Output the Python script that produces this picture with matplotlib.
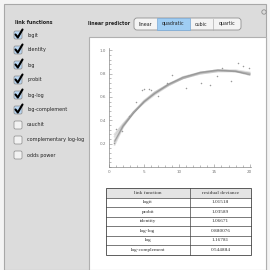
import matplotlib
matplotlib.use('Agg')
import matplotlib.pyplot as plt
from matplotlib.patches import Rectangle, FancyBboxPatch
import numpy as np

# --- data ---
LINK_FUNCTIONS = ['logit', 'identity', 'log', 'probit', 'log-log', 'log-complement',
                  'cauchit', 'complementary log-log', 'odds power']
LINK_CHECKED = [True, True, True, True, True, True, False, False, False]
PREDICTORS = ['linear', 'quadratic', 'cubic', 'quartic']
SELECTED = 'quadratic'

obs_x = [0.7, 1.0, 1.9, 2.9, 3.9, 4.7, 5.0, 5.7, 6.0, 6.9, 8.3, 8.9,
         11.0, 13.1, 14.3, 15.3, 16.1, 17.4, 18.3, 19.0, 19.9]
obs_y = [0.21, 0.33, 0.31, 0.44, 0.56, 0.66, 0.67, 0.67, 0.66, 0.61, 0.72, 0.79,
         0.68, 0.72, 0.70, 0.78, 0.85, 0.74, 0.89, 0.87, 0.85]

fit_x = [0.8, 2.0, 3.5, 5.0, 6.5, 8.5, 10.5, 13.0, 15.5, 18.0, 20.0]
fit_curves = {
    'logit':          [0.22, 0.35, 0.46, 0.56, 0.63, 0.71, 0.77, 0.81, 0.83, 0.82, 0.79],
    'probit':         [0.23, 0.35, 0.47, 0.56, 0.63, 0.71, 0.76, 0.81, 0.83, 0.82, 0.80],
    'identity':       [0.26, 0.36, 0.47, 0.56, 0.63, 0.70, 0.76, 0.80, 0.82, 0.82, 0.80],
    'log-log':        [0.19, 0.34, 0.47, 0.57, 0.64, 0.71, 0.76, 0.80, 0.82, 0.82, 0.80],
    'log':            [0.28, 0.37, 0.47, 0.55, 0.62, 0.70, 0.76, 0.81, 0.83, 0.83, 0.81],
    'log-complement': [0.21, 0.35, 0.47, 0.56, 0.64, 0.71, 0.77, 0.81, 0.83, 0.82, 0.79],
}

table_links = ['logit', 'probit', 'identity', 'log-log', 'log', 'log-complement']
table_dev = ['1.01518', '1.03589', '1.06671', '0.880076', '1.16781', '0.544884']

W = H = 270
fig = plt.figure(figsize=(2.7, 2.7), dpi=100)
fig.patch.set_facecolor('#f4f4f4')

ui = fig.add_axes([0, 0, 1, 1])
ui.set_xlim(0, W)
ui.set_ylim(H, 0)
ui.axis('off')

# outer gray panel
ui.add_patch(Rectangle((4, 4), 262, 266, facecolor='#dcdcdc', edgecolor='#a8a8a8', lw=0.8))
# white output pane
ui.add_patch(Rectangle((89, 37), 177, 233, facecolor='white', edgecolor='#b0b0b0', lw=0.8))

# left controls
ui.text(15, 23, 'link functions', fontsize=3.5, fontweight='bold', va='center', color='#222')
for i, (name, on) in enumerate(zip(LINK_FUNCTIONS, LINK_CHECKED)):
    yc = 35 + i * 15
    fc = '#b9d6f2' if on else '#f2f2f2'
    ui.add_patch(FancyBboxPatch((14, yc - 4), 8, 8, boxstyle='round,pad=0,rounding_size=1.5',
                                facecolor=fc, edgecolor='#8a8a8a', lw=0.5))
    if on:
        ui.plot([15.5, 17.8, 22.5], [yc - 0.5, yc + 2.5, yc - 5.5], color='black', lw=1.5,
                solid_capstyle='round')
    ui.text(27, yc, name, fontsize=3.5, va='center', color='#222')

# linear predictor selector
ui.text(88, 24, 'linear predictor', fontsize=3.4, fontweight='bold', va='center', color='#222')
seg_edges = [134, 157, 190, 213, 241]
ui.add_patch(FancyBboxPatch((134, 18), 107, 12, boxstyle='round,pad=0,rounding_size=3',
                            facecolor='#f4f4f4', edgecolor='#909090', lw=0.6))
for k, lab in enumerate(PREDICTORS):
    x0, x1 = seg_edges[k], seg_edges[k + 1]
    if lab == SELECTED:
        ui.add_patch(Rectangle((x0, 18.4), x1 - x0, 11.2, facecolor='#9fcdf3',
                               edgecolor='#7aa9d6', lw=0.5))
    elif k > 0 and PREDICTORS[k - 1] != SELECTED:
        ui.plot([x0, x0], [18.5, 29.5], color='#b0b0b0', lw=0.5)
    ui.text((x0 + x1) / 2, 24, lab, fontsize=3.4, ha='center', va='center', color='#222')

# gear-ish icon
ui.add_patch(plt.Circle((264, 12), 2.2, facecolor='none', edgecolor='#909090', lw=0.6))

# plot axes (pixel placement)
ax_l, ax_r, ax_t, ax_b = 109, 251, 48, 167
ax = fig.add_axes([ax_l / W, 1 - ax_b / H, (ax_r - ax_l) / W, (ax_b - ax_t) / H])
ax.set_facecolor('none')
ax.set_xlim(0, 20.2)
ax.set_ylim(0, 1.02)
for s in ['top', 'right']:
    ax.spines[s].set_visible(False)
for s in ['left', 'bottom']:
    ax.spines[s].set_color('#888')
    ax.spines[s].set_linewidth(0.5)
ax.set_xticks([0, 5, 10, 15, 20])
ax.set_xticks(np.arange(0, 21, 1), minor=True)
ax.set_yticks([0.2, 0.4, 0.6, 0.8, 1.0])
ax.set_yticklabels(['0.2', '0.4', '0.6', '0.8', '1.0'])
ax.set_yticks(np.arange(0, 1.01, 0.04), minor=True)
ax.tick_params(which='both', direction='in', color='#888', width=0.4, labelsize=3.0,
               labelcolor='#777', pad=2)
ax.tick_params(which='major', length=2.2)
ax.tick_params(which='minor', length=1.2)

for name, ys in fit_curves.items():
    ax.plot(fit_x, ys, color='#999999', lw=1.3, alpha=0.3)
ax.plot(fit_x, fit_curves['logit'], color='#888888', lw=0.5, alpha=0.7)
ax.scatter(obs_x, obs_y, s=1.2, color='#999999', zorder=3, linewidths=0)

# deviance table
tx0, tx1, tmid = 106, 251, 190
ty0, rh = 188, 9.5
nrows = len(table_links) + 1
ui.add_patch(Rectangle((tx0, ty0), tx1 - tx0, rh, facecolor='#e4e4e4', edgecolor='none'))
ui.add_patch(Rectangle((tx0, ty0), tx1 - tx0, rh * nrows, facecolor='none',
                       edgecolor='#444', lw=0.6))
for r in range(1, nrows):
    ui.plot([tx0, tx1], [ty0 + r * rh, ty0 + r * rh], color='#444', lw=0.5)
ui.plot([tmid, tmid], [ty0, ty0 + rh * nrows], color='#444', lw=0.5)
rows = [('link function', 'residual deviance')] + list(zip(table_links, table_dev))
for r, (a, b) in enumerate(rows):
    yc = ty0 + (r + 0.5) * rh
    ui.text((tx0 + tmid) / 2, yc, a, fontsize=3.8, ha='center', va='center',
            family='Liberation Serif', color='#333')
    ui.text((tmid + tx1) / 2, yc, b, fontsize=3.8, ha='center', va='center',
            family='Liberation Serif', color='#333')

fig.savefig('out.png', dpi=100)
